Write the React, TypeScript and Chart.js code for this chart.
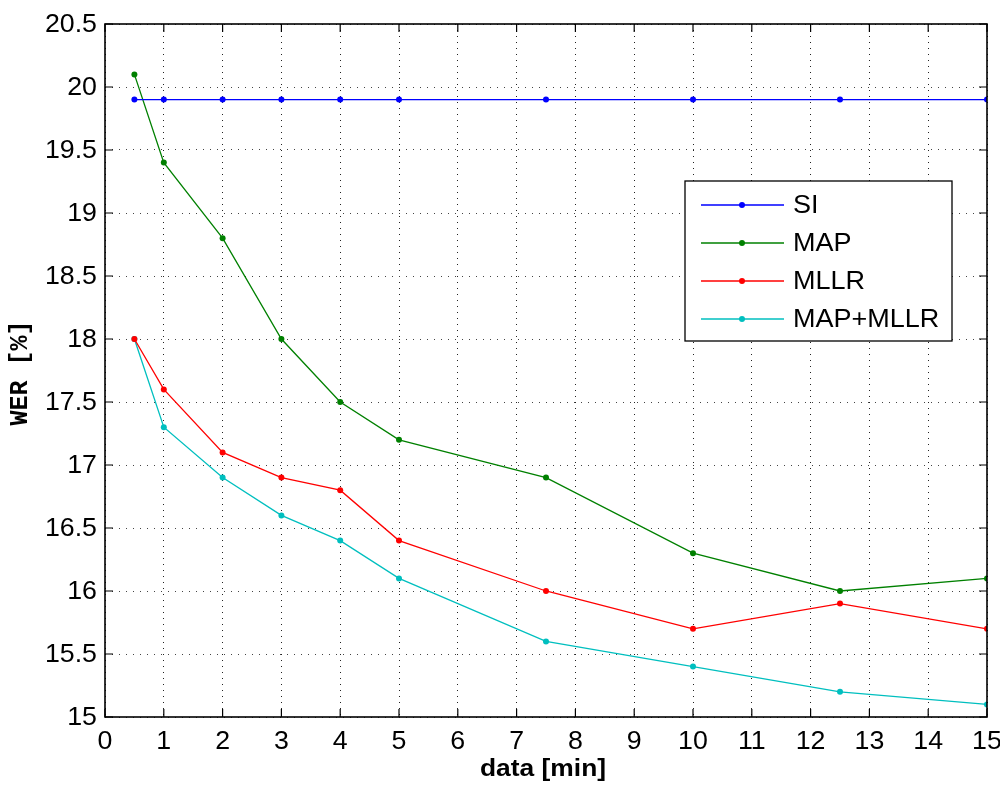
import React, { useEffect, useRef } from "react";
import { Chart, registerables } from "chart.js";

Chart.register(...registerables);

const xData = [0.5, 1, 2, 3, 4, 5, 7.5, 10, 12.5, 15];
const siValues = [19.9, 19.9, 19.9, 19.9, 19.9, 19.9, 19.9, 19.9, 19.9, 19.9];
const mapValues = [20.1, 19.4, 18.8, 18.0, 17.5, 17.2, 16.9, 16.3, 16.0, 16.1];
const mllrValues = [18.0, 17.6, 17.1, 16.9, 16.8, 16.4, 16.0, 15.7, 15.9, 15.7];
const mapMllrValues = [18.0, 17.3, 16.9, 16.6, 16.4, 16.1, 15.6, 15.4, 15.2, 15.1];
const seriesNames = ["SI", "MAP", "MLLR", "MAP+MLLR"];
const seriesColors = ["#0000ff", "#008000", "#ff0000", "#00bfbf"];
const xTitle = "data [min]";
const yTitle = "WER [%]";

const FONT = "'Liberation Sans', Arial, sans-serif";

const matlabPlugin = {
  id: "matlabDeco",
  afterDraw(chart: any) {
    const { ctx, chartArea } = chart;
    const { left, right, top, bottom } = chartArea;
    const xs = chart.scales.x;
    const ys = chart.scales.y;
    ctx.save();
    // inward ticks
    ctx.strokeStyle = "#000";
    ctx.lineWidth = 1.2;
    const tl = 8;
    xs.ticks.forEach((t: any) => {
      const px = xs.getPixelForValue(t.value);
      ctx.beginPath();
      ctx.moveTo(px, bottom);
      ctx.lineTo(px, bottom - tl);
      ctx.moveTo(px, top);
      ctx.lineTo(px, top + tl);
      ctx.stroke();
    });
    ys.ticks.forEach((t: any) => {
      const py = ys.getPixelForValue(t.value);
      ctx.beginPath();
      ctx.moveTo(left, py);
      ctx.lineTo(left + tl, py);
      ctx.moveTo(right, py);
      ctx.lineTo(right - tl, py);
      ctx.stroke();
    });
    // box
    ctx.lineWidth = 1.6;
    ctx.strokeRect(left, top, right - left, bottom - top);

    // tick labels
    ctx.fillStyle = "#000";
    ctx.font = `25px ${FONT}`;
    ctx.textBaseline = "middle";
    ys.ticks.forEach((t: any) => {
      const py = ys.getPixelForValue(t.value);
      ctx.save();
      ctx.translate(left - 8, py + 1);
      ctx.scale(1.07, 1);
      ctx.textAlign = "right";
      ctx.fillText(String(t.value), 0, 0);
      ctx.restore();
    });
    xs.ticks.forEach((t: any) => {
      const px = xs.getPixelForValue(t.value);
      ctx.save();
      ctx.translate(px, bottom + 25);
      ctx.scale(1.07, 1);
      ctx.textAlign = "center";
      ctx.fillText(String(t.value), 0, 0);
      ctx.restore();
    });

    // axis titles
    ctx.save();
    ctx.translate((left + right) / 2 - 3, 769);
    ctx.scale(1.1, 1);
    ctx.font = `bold 24px ${FONT}`;
    ctx.textAlign = "center";
    ctx.textBaseline = "middle";
    ctx.fillText(xTitle, 0, 0);
    ctx.restore();

    ctx.save();
    ctx.translate(21, 373);
    ctx.rotate(-Math.PI / 2);
    ctx.font = `bold 25px 'Liberation Mono', 'DejaVu Sans Mono', monospace`;
    ctx.textAlign = "center";
    ctx.textBaseline = "middle";
    ctx.fillText(yTitle, 0, 0);
    ctx.restore();

    // legend
    const lx = 685, ly = 181, lw = 267, lh = 160;
    ctx.fillStyle = "#fff";
    ctx.fillRect(lx, ly, lw, lh);
    ctx.strokeStyle = "#000";
    ctx.lineWidth = 1.3;
    ctx.strokeRect(lx, ly, lw, lh);
    ctx.textBaseline = "middle";
    seriesNames.forEach((name, i) => {
      const yy = 205 + i * 38;
      ctx.strokeStyle = seriesColors[i];
      ctx.lineWidth = 1.3;
      ctx.beginPath();
      ctx.moveTo(701, yy);
      ctx.lineTo(784, yy);
      ctx.stroke();
      ctx.fillStyle = seriesColors[i];
      ctx.beginPath();
      ctx.arc(742, yy, 3, 0, Math.PI * 2);
      ctx.fill();
      ctx.save();
      ctx.translate(793, yy + 1);
      ctx.scale(1.08, 1);
      ctx.font = `25px ${FONT}`;
      ctx.textAlign = "left";
      ctx.fillStyle = "#000";
      ctx.fillText(name, 0, 0);
      ctx.restore();
    });
    ctx.restore();
  },
};

export default function App() {
  const ref = useRef<HTMLCanvasElement>(null);
  useEffect(() => {
    document.body.style.margin = "0";
    const allSeries = [siValues, mapValues, mllrValues, mapMllrValues];
    const chart = new Chart(ref.current as HTMLCanvasElement, {
      type: "line",
      data: {
        datasets: allSeries.map((vals, i) => ({
          label: seriesNames[i],
          data: xData.map((x, j) => ({ x, y: vals[j] })),
          borderColor: seriesColors[i],
          backgroundColor: seriesColors[i],
          borderWidth: 1.3,
          pointRadius: 3,
          pointBorderWidth: 0,
          tension: 0,
          fill: false,
        })),
      },
      options: {
        animation: false,
        responsive: false,
        maintainAspectRatio: false,
        layout: { padding: { top: 24, right: 13, left: 0, bottom: 0 } },
        plugins: { legend: { display: false }, tooltip: { enabled: false } },
        scales: {
          x: {
            type: "linear",
            min: 0,
            max: 15,
            ticks: {
              stepSize: 1,
              display: false,
              autoSkip: false,
            },
            grid: {
              color: "#222",
              lineWidth: 1,
              drawTicks: false,
            },
            border: { display: false, dash: [1, 5] },
            afterFit: (s: any) => {
              s.height = 68;
            },
          },
          y: {
            type: "linear",
            min: 15,
            max: 20.5,
            ticks: {
              stepSize: 0.5,
              display: false,
              autoSkip: false,
            },
            grid: {
              color: "#444",
              lineWidth: 1,
              drawTicks: false,
            },
            border: { display: false, dash: [1, 6] },
            afterFit: (s: any) => {
              s.width = 105;
            },
          },
        },
      },
      plugins: [matlabPlugin],
    } as any);
    return () => chart.destroy();
  }, []);
  return (
    <div style={{ position: "absolute", left: 0, top: 0, width: 1000, height: 785, background: "#fff" }}>
      <canvas ref={ref} width={1000} height={785} style={{ width: 1000, height: 785 }} />
    </div>
  );
}
